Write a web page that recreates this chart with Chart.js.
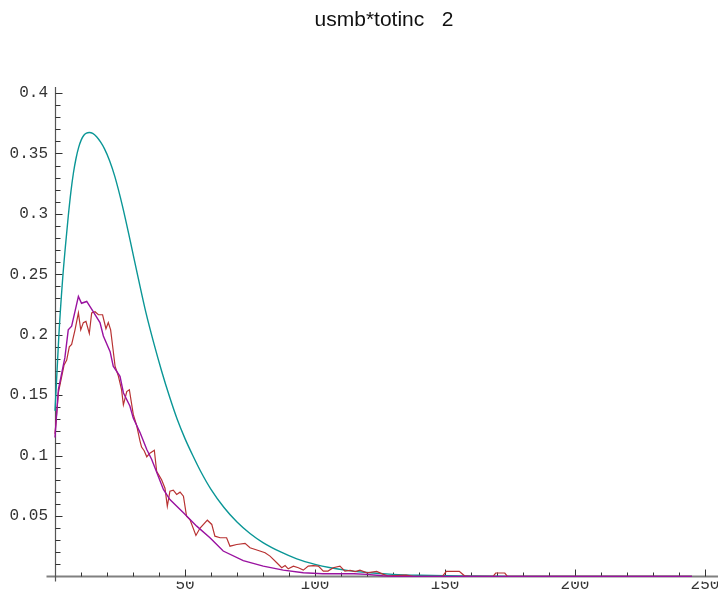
<!DOCTYPE html>
<html>
<head>
<meta charset="utf-8">
<title>usmb*totinc 2</title>
<script src="https://cdn.jsdelivr.net/npm/chart.js@4/dist/chart.umd.min.js"></script>
<style>
  html, body { margin: 0; padding: 0; background: #ffffff; }
  #wrap { width: 718px; height: 593px; }
</style>
</head>
<body>
<div id="wrap"><canvas id="chart" width="718" height="593"></canvas></div>
<script>
// Tick labels
const X_TICKS = [50, 100, 150, 200, 250];
const Y_TICKS = [0.05, 0.1, 0.15, 0.2, 0.25, 0.3, 0.35, 0.4];

// Smooth density curve (teal)
const SMOOTH_X = [0, 0.5, 1.5, 2.9, 4, 5.1, 6.1, 7.1, 8.1, 9.1, 10.1, 11.1, 12.1, 13.2, 14.5, 16, 17.5, 19, 21, 23, 26, 29, 32, 35, 38, 41, 44, 47, 50, 53, 56, 60, 65, 70, 75, 80, 87, 93, 100, 106, 113, 120, 130, 140, 155, 175, 245];
const SMOOTH_Y = [0.137, 0.158, 0.2, 0.245, 0.273, 0.298, 0.318, 0.334, 0.346, 0.355, 0.3612, 0.365, 0.3668, 0.3673, 0.3665, 0.3638, 0.3595, 0.354, 0.344, 0.331, 0.306, 0.277, 0.247, 0.218, 0.193, 0.17, 0.149, 0.13, 0.114, 0.1, 0.087, 0.072, 0.057, 0.045, 0.0355, 0.028, 0.02, 0.0145, 0.01, 0.0072, 0.0048, 0.0032, 0.0017, 0.0009, 0.0003, 0, 0];

// Empirical series (red)
const EMPIRICAL_X = [0, 1.3, 3.5, 4.5, 5.5, 6.4, 7.7, 9, 9.9, 10.9, 11.9, 13.2, 14.1, 15.4, 16.7, 18.3, 19.6, 20.5, 21.4, 22.2, 23.1, 24.4, 25.6, 26.3, 27.6, 28.6, 30.1, 31.4, 32.7, 33.3, 34.3, 35.3, 36.5, 38.2, 39.1, 41, 42.3, 43.2, 44.2, 45.5, 46.8, 48.1, 49.4, 50.6, 51.9, 54.2, 55.8, 58.6, 60.3, 61.5, 63.5, 66, 67.3, 69.9, 73.1, 75, 78.8, 80.8, 82.7, 85.3, 87.2, 88.5, 89.7, 91.7, 93.6, 95.5, 97.4, 99.3, 101.3, 103.2, 105, 107, 109.6, 111.5, 113.5, 115.4, 117.3, 120, 123.7, 126.3, 128, 135, 138, 149, 150.5, 155.5, 157.5, 160, 168.5, 169.5, 173, 174, 245];
const EMPIRICAL_Y = [0.118, 0.152, 0.175, 0.179, 0.19, 0.192, 0.204, 0.218, 0.204, 0.21, 0.211, 0.201, 0.218, 0.219, 0.2165, 0.2165, 0.205, 0.21, 0.204, 0.19, 0.174, 0.1655, 0.1545, 0.142, 0.153, 0.1545, 0.134, 0.125, 0.112, 0.107, 0.104, 0.099, 0.102, 0.1044, 0.087, 0.08, 0.073, 0.058, 0.0705, 0.0713, 0.0678, 0.0697, 0.0664, 0.0498, 0.047, 0.0339, 0.04, 0.0465, 0.043, 0.0333, 0.032, 0.032, 0.025, 0.0264, 0.0273, 0.0237, 0.021, 0.0196, 0.0168, 0.0113, 0.0072, 0.009, 0.0063, 0.0085, 0.0072, 0.0052, 0.0085, 0.009, 0.0085, 0.0044, 0.0044, 0.0072, 0.0085, 0.0044, 0.005, 0.0039, 0.0052, 0.003, 0.0042, 0.0017, 0.0005, 0.001, 0, 0, 0.0042, 0.0042, 0.0005, 0, 0, 0.0028, 0.0028, 0, 0];

// Fitted series (purple)
const FITTED_X = [0, 1.3, 3.8, 5.1, 6.4, 9, 10.2, 12.2, 14.7, 17.3, 18.6, 21.2, 22.4, 25, 26.3, 28.8, 30.1, 32.7, 35.3, 37.2, 41.7, 44.2, 49.4, 54.5, 59.6, 64.7, 72.4, 80.1, 87.8, 95.5, 103, 115, 120, 126, 130, 245];
const FITTED_Y = [0.115, 0.1545, 0.181, 0.204, 0.207, 0.2317, 0.226, 0.2275, 0.219, 0.21, 0.199, 0.186, 0.174, 0.1655, 0.152, 0.141, 0.131, 0.119, 0.105, 0.0967, 0.072, 0.0636, 0.0526, 0.0416, 0.032, 0.021, 0.013, 0.0085, 0.0052, 0.003, 0.0022, 0.0022, 0.0017, 0.0005, 0, 0];

const toPoints = (xs, ys) => xs.map((x, i) => ({ x: x, y: ys[i] }));

// Axes crossing at the origin, with ticks pointing into the plot
const originAxes = {
  id: 'originAxes',
  beforeDatasetsDraw(chart) {
    const ctx = chart.ctx;
    const xs = chart.scales.x, ys = chart.scales.y;
    const x0 = Math.round(xs.getPixelForValue(0)) + 0.5;
    const y0 = Math.round(ys.getPixelForValue(0)) + 0.5;
    ctx.save();
    // horizontal axis
    ctx.strokeStyle = '#808080';
    ctx.lineWidth = 2;
    ctx.beginPath();
    ctx.moveTo(x0 - 9, y0);
    ctx.lineTo(chart.width, y0);
    ctx.stroke();
    // vertical axis
    ctx.strokeStyle = '#555555';
    ctx.lineWidth = 1.2;
    ctx.beginPath();
    ctx.moveTo(x0, y0 + 5);
    ctx.lineTo(x0, chart.chartArea.top);
    ctx.stroke();
    // x ticks
    ctx.strokeStyle = '#333333';
    ctx.lineWidth = 1;
    ctx.beginPath();
    for (let v = 10; v <= 250; v += 10) {
      const px = Math.round(xs.getPixelForValue(v)) + 0.5;
      const len = (v % 50 === 0) ? 7 : 4;
      ctx.moveTo(px, y0);
      ctx.lineTo(px, y0 - len);
    }
    // y ticks
    for (let k = 1; k <= 40; k++) {
      const py = Math.round(ys.getPixelForValue(k / 100)) + 0.5;
      const len = (k % 5 === 0) ? 7 : 5;
      ctx.moveTo(x0, py);
      ctx.lineTo(x0 + len, py);
    }
    ctx.stroke();
    ctx.restore();
  }
};

new Chart(document.getElementById('chart'), {
  type: 'line',
  data: {
    datasets: [
      {
        data: toPoints(SMOOTH_X, SMOOTH_Y),
        borderColor: '#0a9696',
        borderWidth: 1.4,
        pointRadius: 0,
        cubicInterpolationMode: 'monotone',
        order: 2
      },
      {
        data: toPoints(EMPIRICAL_X, EMPIRICAL_Y),
        borderColor: '#b83232',
        borderWidth: 1.2,
        pointRadius: 0,
        tension: 0,
        order: 1
      },
      {
        data: toPoints(FITTED_X, FITTED_Y),
        borderColor: '#9a12a0',
        borderWidth: 1.4,
        pointRadius: 0,
        tension: 0,
        order: 0
      }
    ]
  },
  options: {
    responsive: false,
    devicePixelRatio: 1,
    animation: false,
    layout: { padding: 0 },
    plugins: {
      legend: { display: false },
      tooltip: { enabled: false },
      title: {
        display: true,
        fullSize: false,
        text: 'usmb*totinc   2',
        color: '#111111',
        font: { family: '"Liberation Sans", Arial, sans-serif', size: 21, weight: 'normal', lineHeight: 1.2 },
        padding: { top: 8, bottom: 53.8 }
      }
    },
    scales: {
      x: {
        type: 'linear',
        min: -1.923,
        max: 255,
        grid: { display: false, drawTicks: false },
        border: { display: false },
        afterBuildTicks: (s) => { s.ticks = X_TICKS.map(v => ({ value: v })); },
        afterFit: (s) => { s.height = 11; },
        ticks: {
          padding: -6,
          maxRotation: 0,
          autoSkip: false,
          color: '#333333',
          font: { family: '"Liberation Mono", "Courier New", monospace', size: 16 },
          callback: (v) => String(v)
        }
      },
      y: {
        type: 'linear',
        min: -0.00413,
        max: 0.40496,
        grid: { display: false, drawTicks: false },
        border: { display: false },
        afterBuildTicks: (s) => { s.ticks = Y_TICKS.map(v => ({ value: v })); },
        afterFit: (s) => { s.width = 50; },
        ticks: {
          padding: 2,
          autoSkip: false,
          color: '#333333',
          font: { family: '"Liberation Mono", "Courier New", monospace', size: 16 },
          callback: (v) => String(v)
        }
      }
    }
  },
  plugins: [originAxes]
});
</script>
</body>
</html>
